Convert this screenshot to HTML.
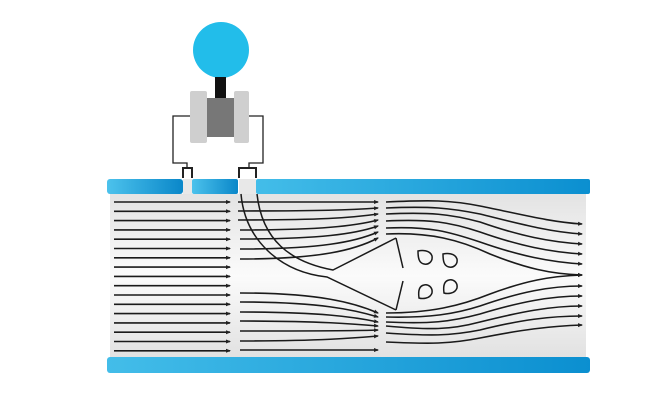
<!DOCTYPE html>
<html><head><style>html,body{margin:0;padding:0;background:#fff}svg{display:block}</style></head>
<body>
<svg width="650" height="400" viewBox="0 0 650 400" xmlns="http://www.w3.org/2000/svg">
<defs>
<linearGradient id="band" x1="0" x2="1" y1="0" y2="0">
<stop offset="0" stop-color="#43bde9"/><stop offset="1" stop-color="#0b8fd0"/></linearGradient>
<linearGradient id="bandL" x1="0" x2="1"><stop offset="0" stop-color="#4cc2ec"/><stop offset="1" stop-color="#0a87c9"/></linearGradient>
<linearGradient id="inner" x1="0" x2="0" y1="0" y2="1">
<stop offset="0" stop-color="#e3e3e3"/><stop offset="0.5" stop-color="#fbfbfb"/><stop offset="1" stop-color="#e1e1e1"/></linearGradient>
<marker id="a" markerWidth="5" markerHeight="5" refX="4" refY="2.5" orient="auto" markerUnits="userSpaceOnUse"><path d="M0,0.5 L5,2.5 L0,4.5z" fill="#222"/></marker>
</defs>
<rect x="110" y="194" width="476" height="164" fill="url(#inner)"/>
<rect x="107" y="179" width="76" height="15" rx="3" fill="url(#bandL)"/>
<rect x="192" y="179" width="46" height="15" rx="2" fill="url(#bandL)"/>
<rect x="256" y="179" width="334" height="15" rx="2" fill="url(#band)"/>
<rect x="183" y="179" width="9" height="15" fill="#e8e8e8"/>
<rect x="239" y="179" width="17" height="15" fill="#e8e8e8"/>
<rect x="107" y="357" width="483" height="16" rx="3" fill="url(#band)"/>
<circle cx="221" cy="50" r="28" fill="#22bdea"/>
<rect x="215" y="77" width="11" height="22" fill="#111"/>
<rect x="190" y="91" width="17" height="52" rx="2" fill="#cfcfcf"/>
<rect x="234" y="91" width="15" height="52" rx="2" fill="#cfcfcf"/>
<rect x="207" y="98" width="27" height="39" fill="#777"/>
<g fill="none" stroke="#222" stroke-width="1.3">
<path d="M190,116 H173 V163 H187 V168"/>
<path d="M249,116 H263 V163 H249 V168"/>
<path d="M183,178 V168 H192 V178" stroke-width="2"/>
<path d="M239,178 V168 H256 V178" stroke-width="2"/>
</g>
<g stroke="#1a1a1a" stroke-width="1.6" fill="none" marker-end="url(#a)">
<path d="M114,202H230"/><path d="M114,211.3H230"/><path d="M114,220.6H230"/><path d="M114,229.9H230"/><path d="M114,239.2H230"/><path d="M114,248.5H230"/><path d="M114,257.8H230"/><path d="M114,267.1H230"/><path d="M114,276.4H230"/><path d="M114,285.7H230"/><path d="M114,295H230"/><path d="M114,304.3H230"/><path d="M114,313.6H230"/><path d="M114,322.9H230"/><path d="M114,332.2H230"/><path d="M114,341.5H230"/><path d="M114,350.8H230"/>
<path d="M238,202H378"/>
<path d="M238,211C320,211 350,210 378,208"/>
<path d="M238,220C320,220 350,218 378,214"/>
<path d="M240,230C320,230 355,226 378,220"/>
<path d="M240,239C320,239 355,234 378,226"/>
<path d="M240,249C320,249 355,242 378,232"/>
<path d="M240,259C320,259 355,250 378,238"/>
<path d="M240,293C320,293 355,303 378,313"/>
<path d="M240,302C320,302 355,310 378,317"/>
<path d="M240,312C320,312 355,317 378,322"/>
<path d="M240,321C320,321 355,324 378,326"/>
<path d="M240,331C320,331 355,331 378,330"/>
<path d="M240,341C320,341 355,338 378,336"/>
<path d="M240,350H378"/>
<path d="M386,202C430,200 450,200 480,206C520,214 550,222 582,224"/>
<path d="M386,208C430,206 450,208 480,214C520,224 550,232 582,234"/>
<path d="M386,214C430,212 450,214 480,222C520,236 550,242 582,244"/>
<path d="M386,221C430,219 450,222 480,232C520,246 550,252 582,254"/>
<path d="M386,228C430,226 450,232 480,242C520,256 550,262 582,264"/>
<path d="M386,234C430,232 460,240 490,254C525,268 550,274 582,275"/>
<path d="M386,313C430,313 460,306 490,294C525,281 550,276 582,275"/>
<path d="M386,317C430,318 455,314 480,306C520,292 550,286 582,286"/>
<path d="M386,322C430,324 450,322 480,314C520,302 550,296 582,296"/>
<path d="M386,326C430,330 450,330 480,322C520,312 550,306 582,306"/>
<path d="M386,333C430,336 450,336 480,330C520,320 550,316 582,316"/>
<path d="M386,342C430,344 450,344 480,338C520,330 550,326 582,325"/>
</g>
<g fill="none" stroke="#1a1a1a" stroke-width="1.5">
<path d="M241,194C245,240 280,272 327,277L396,310"/>
<path d="M257,194C262,240 290,262 333,270L396,238"/>
<path d="M396,238L403,268"/>
<path d="M403,281L396,310"/>
<path d="M418,251 C422,250 430,250 432,256 C433,262 428,265 424,264 C419,263 418,258 418,251Z"/>
<path d="M443,254 C447,253 455,253 457,259 C458,265 453,268 449,267 C444,266 443,261 443,254Z"/>
<path d="M419,298 C422,299 430,299 432,293 C433,287 428,284 424,285 C419,286 418,291 419,298Z"/>
<path d="M444,293 C447,294 455,294 457,288 C458,282 453,279 449,280 C444,281 443,286 444,293Z"/>
</g>
</svg>
</body></html>
